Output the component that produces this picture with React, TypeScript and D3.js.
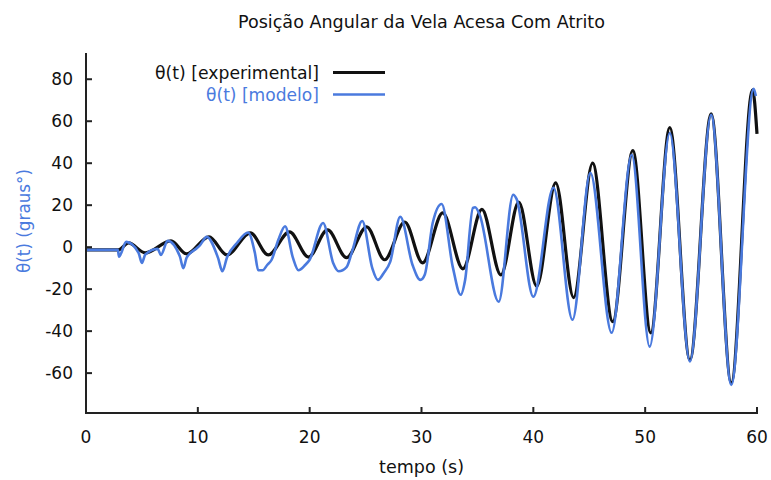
import React from "react";
import * as d3 from "d3";

// Experimental series (black) — extrema
const expT = [0, 2.9, 3.8, 5.3, 7.6, 9.0, 11.0, 12.6, 14.7, 16.3, 18.2, 19.9, 21.6, 23.3, 25.1, 26.7, 28.5, 30.1, 31.9, 33.7, 35.4, 37.1, 38.7, 40.3, 42.0, 43.6, 45.3, 47.1, 48.9, 50.5, 52.2, 54.0, 55.9, 57.7, 59.6, 60];
const expV = [-1.3, -1.3, 2, -2.7, 3, -3.2, 4.9, -3.7, 6.8, -3.7, 7.3, -4.7, 8.2, -5, 9.7, -6, 12, -7.5, 16.3, -10.3, 18, -13.2, 21.5, -18.6, 30.6, -24, 40, -35.5, 46, -40.8, 57, -53.7, 63.5, -64.6, 75, 54];

// Model series (blue)
const modT = [0, 2.85, 2.95, 3.6, 4.7, 5.0, 5.3, 6.4, 6.7, 7.3, 8.4, 8.7, 9.0, 9.9, 10.2, 10.8, 11.8, 12.2, 12.6, 13.5, 14.5, 15.1, 15.4, 15.8, 16.2, 16.6, 17.2, 17.8, 18.5, 19.0, 19.6, 20.0, 21.2, 22.1, 22.6, 23.3, 23.8, 24.7, 25.6, 26.1, 26.6, 27.2, 28.1, 29.2, 29.9, 30.3, 31.0, 31.8, 32.8, 33.5, 33.9, 34.6, 34.8, 35.2, 36.9, 38.2, 38.5, 40.0, 41.8, 43.5, 45.1, 47.0, 48.8, 50.4, 52.2, 54.0, 55.9, 57.7, 59.7, 59.9];
const modV = [-1.3, -1.3, -4.5, 2.5, -2.7, -7.5, -3.5, -0.8, -3.7, 3, -4.5, -10, -5, -0.5, 1, 4.9, -5, -11.5, -5, 2, 7, -2.7, -11, -11, -8.5, -6, 3.5, 10, -5, -11, -8.5, -6, 11.5, -7.5, -11.5, -9.5, -2, 12.5, -10, -15.6, -12.5, -7, 14.5, -8.5, -15.6, -13, 11.5, 20.6, -9.5, -22.7, -15.6, 18.7, 19, 15.4, -26, 25, 23, -23.6, 28.3, -34.6, 35.4, -40.8, 44, -47.4, 54.4, -54.5, 63, -65.6, 75.5, 72];

const xTicks = [0, 10, 20, 30, 40, 50, 60];
const yTicks = [-60, -40, -20, 0, 20, 40, 60, 80];

const titleText = "Posição Angular da Vela Acesa Com Atrito";
const xLabel = "tempo (s)";
const yLabel = "θ(t) (graus°)";
const legendLabels = ["θ(t) [experimental]", "θ(t) [modelo]"];

const BLUE = "#4a7ade";
const FONT = "'DejaVu Sans', sans-serif";

export default function App() {
  const W = 771, H = 480;
  const x = d3.scaleLinear().domain([0, 60]).range([86, 757]);
  const y = d3.scaleLinear().domain([-79, 92.5]).range([413, 53]);

  const mk = (T: number[], V: number[]) =>
    d3.line<number>().x((_, i) => x(T[i])).y((_, i) => y(V[i])).curve(d3.curveMonotoneX)(V) || "";

  const expPath = mk(expT, expV);
  const modPath = mk(modT, modV);

  const [x0, x1] = x.range();
  const [yb, yt] = y.range();

  return (
    <svg width={W} height={H} style={{ position: "absolute", left: 0, top: 0, background: "#fff" }} fontFamily={FONT}>
      <rect width={W} height={H} fill="#fff" />
      <text x={421.5} y={28} fontSize={17} textAnchor="middle" fill="#111" textLength={367} lengthAdjust="spacingAndGlyphs">{titleText}</text>

      <path d={expPath} fill="none" stroke="#111" strokeWidth={3.2} strokeLinejoin="round" />
      <path d={modPath} fill="none" stroke={BLUE} strokeWidth={2.6} strokeLinejoin="round" />

      {/* axes */}
      <line x1={x0} x2={x0} y1={yt} y2={yb + 1} stroke="#222" strokeWidth={2} />
      <line x1={x0 - 1} x2={x1 + 1} y1={yb} y2={yb} stroke="#222" strokeWidth={2} />
      {yTicks.map(v => (
        <g key={"y" + v}>
          <line x1={x0} x2={x0 + 6} y1={y(v)} y2={y(v)} stroke="#222" strokeWidth={2} />
          <text x={73} y={y(v)} dy="0.36em" fontSize={17} textAnchor="end" fill="#111">{v}</text>
        </g>
      ))}
      {xTicks.map(v => (
        <g key={"x" + v}>
          <line x1={x(v)} x2={x(v)} y1={yb} y2={yb - 6} stroke="#222" strokeWidth={2} />
          <text x={x(v)} y={443} fontSize={17} textAnchor="middle" fill="#111">{v}</text>
        </g>
      ))}

      <text x={421.5} y={473} fontSize={17} textAnchor="middle" fill="#111" textLength={85} lengthAdjust="spacingAndGlyphs">{xLabel}</text>
      <text transform={`translate(30,221) rotate(-90)`} fontSize={17} textAnchor="middle" fill={BLUE} textLength={104} lengthAdjust="spacingAndGlyphs">{yLabel}</text>

      {/* legend */}
      <text x={319} y={79} fontSize={17} textAnchor="end" fill="#111" textLength={164} lengthAdjust="spacingAndGlyphs">{legendLabels[0]}</text>
      <line x1={333} x2={385} y1={72.5} y2={72.5} stroke="#111" strokeWidth={3.2} />
      <text x={319} y={101} fontSize={17} textAnchor="end" fill={BLUE} textLength={113} lengthAdjust="spacingAndGlyphs">{legendLabels[1]}</text>
      <line x1={333} x2={385} y1={94.5} y2={94.5} stroke={BLUE} strokeWidth={2.6} />
    </svg>
  );
}
